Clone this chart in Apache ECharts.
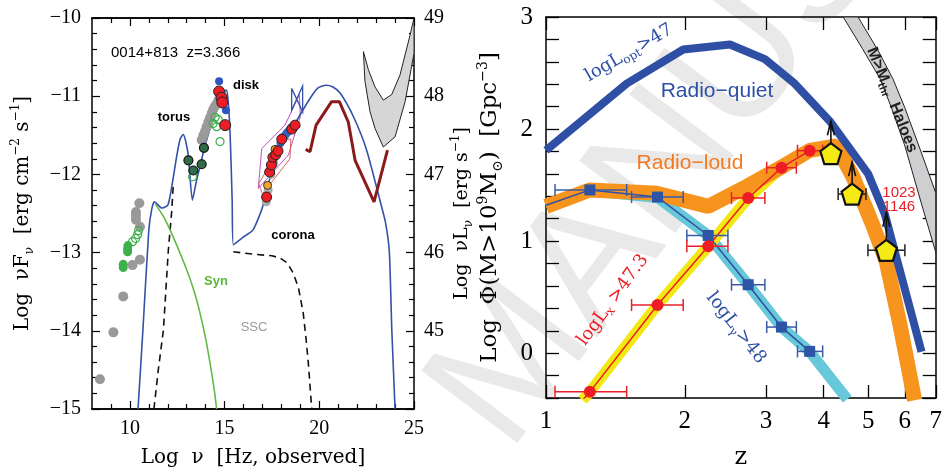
<!DOCTYPE html>
<html><head><meta charset="utf-8">
<script src="https://cdn.jsdelivr.net/npm/echarts@6/dist/echarts.min.js"></script>
<style>html,body{margin:0;padding:0;background:#fff}#c{width:945px;height:475px}</style>
</head><body><div id="c"></div>
<script>
// ================= LEFT PANEL DATA (log nu [Hz], log nuFnu) =================
const leftXMajor = [10, 15, 20, 25];
const leftXMinor = [9, 11, 12, 13, 14, 16, 17, 18, 19, 21, 22, 23, 24];
const leftRightLabels = [45, 46, 47, 48, 49];
const totalModel = [[10.43,-15],[10.69,-13.98],[11.0,-12.71],[11.15,-12.45],[11.29,-12.35],[11.45,-12.38],[11.68,-12.43],[12.01,-12.39],[12.25,-12.1],[12.47,-11.77],[12.65,-11.55],[12.82,-11.49],[12.95,-11.58],[13.09,-11.77],[13.3,-12.33],[13.5,-12.1],[13.7,-11.9],[14.0,-11.6],[14.39,-11.3],[14.75,-11.05],[15.0,-10.94],[15.11,-10.92],[15.2,-11.1],[15.29,-11.47],[15.4,-12.33],[15.46,-12.9],[16.0,-12.8],[16.5,-12.71],[17.0,-12.42],[17.56,-11.9],[18.1,-11.6],[18.6,-11.4],[19.35,-11.09],[19.9,-10.9],[20.36,-10.86],[20.7,-10.88],[21.1,-10.96],[21.8,-11.26],[22.5,-11.69],[23.2,-12.33],[23.5,-12.62],[23.7,-13.0],[23.83,-14.0],[24.0,-15]];
const torusDashed = [[11.27,-15],[11.5,-14.5],[11.77,-13.99],[12.03,-12.97],[12.2,-12.5],[12.3,-12.1]];
const coronaDashed = [[15.46,-12.99],[16.5,-13.02],[17.5,-13.04],[17.93,-13.07],[18.3,-13.13],[18.62,-13.26],[18.9,-13.45],[19.15,-13.77],[19.3,-14.1],[19.42,-14.41],[19.6,-15]];
const synCurve = [[11.35,-12.38],[11.8,-12.55],[12.12,-12.71],[12.5,-12.92],[13.0,-13.22],[13.4,-13.5],[13.7,-13.77],[14.0,-14.1],[14.23,-14.41],[14.45,-14.75],[14.58,-15]];
const latSens = [[19.28,-11.68],[19.51,-11.71],[19.83,-11.37],[20.65,-11.07],[21.06,-11.07],[21.53,-11.33],[21.89,-11.82],[22.89,-12.35],[23.6,-11.69]];
const ctaUpper = [[22.33,-10.43],[22.59,-10.66],[22.94,-10.88],[23.38,-11.05],[23.82,-10.98],[24.26,-10.73],[24.79,-10.22],[25.0,-10.0]];
const ctaLower = [[22.33,-10.43],[22.41,-10.81],[22.68,-11.2],[22.94,-11.41],[23.38,-11.65],[24.0,-11.52],[24.53,-11.07],[25.0,-10.45]];
const bowMagenta = [[16.96,-11.67],[18.19,-11.37],[18.95,-10.98],[19.0,-11.26],[18.37,-11.75],[16.78,-12.18],[16.96,-11.67]];
const bowSalmon = [[16.8,-12.12],[18.2,-11.55],[18.5,-11.55],[18.45,-11.8],[17.0,-12.25],[16.8,-12.12]];
const bowBlue = [[18.54,-10.9],[19.12,-11.2],[19.12,-10.87],[18.54,-11.18],[18.54,-10.9]];
const radioGray = [[8.42,-14.62],[9.13,-14.02],[9.65,-13.56],[10.14,-13.16],[10.53,-13.09],[10.5,-12.37],[10.32,-12.48],[10.32,-12.53],[10.32,-12.58],[10.53,-12.67]];
const radioGreenFilled = [[9.65,-13.19],[9.65,-13.15],[9.88,-12.99],[9.88,-12.95],[9.9,-12.91]];
const radioGreenOpen = [[10.14,-12.86],[10.3,-12.82],[10.41,-12.77],[10.45,-12.72]];
const irGray = [[13.79,-11.56],[13.88,-11.5],[13.97,-11.45],[14.05,-11.39],[14.14,-11.33],[14.22,-11.28],[14.32,-11.22],[14.4,-11.17],[14.49,-11.13],[14.58,-11.1],[14.67,-11.06],[14.76,-11.02],[14.85,-10.99]];
const irGreenOpen = [[13.31,-12.03],[14.4,-11.35],[14.5,-11.27],[14.58,-11.39],[14.67,-11.3],[14.76,-11.58]];
const irDark = [[13.09,-11.82],[13.35,-11.95],[13.79,-11.87],[13.91,-11.66]];
const diskRed = [[14.71,-10.94],[14.84,-11.02],[14.88,-11.08],[15.03,-11.37]];
const diskBlue = [[14.71,-10.81],[15.07,-11.18]];
const xrayGray = [[17.2,-12.35],[17.3,-12.2],[17.45,-12.0],[17.6,-11.85],[17.8,-11.7]];
const xrayOrange = [[17.27,-12.14],[17.52,-11.85],[17.66,-11.68]];
const xrayBlue = [[17.95,-11.6],[18.05,-11.55],[18.12,-11.52],[18.2,-11.5],[18.28,-11.47],[18.36,-11.45],[18.44,-11.43],[18.52,-11.4],[18.6,-11.4],[18.68,-11.38]];
const xrayRed = [[17.22,-12.29],[17.38,-11.97],[17.47,-11.88],[17.55,-11.78],[17.7,-11.75],[17.82,-11.7],[18.02,-11.55],[18.55,-11.42],[18.72,-11.37]];

// ================= RIGHT PANEL DATA (z, log Phi) =================
const zTicks = [1, 2, 3, 4, 5, 6, 7];
const phiLabels = [0, 1, 2, 3];
const phiTicks = [-0.4,-0.2,0,0.2,0.4,0.6,0.8,1,1.2,1.4,1.6,1.8,2,2.2,2.4,2.6,2.8,3];
const radioQuiet = [[1.0,1.81],[1.496,2.405],[1.984,2.71],[2.505,2.755],[2.983,2.624],[3.463,2.405],[4.125,2.07],[4.995,1.6],[5.43,1.24],[6.52,0.013]];
const radioLoud = [[1.0,1.31],[1.245,1.457],[1.737,1.428],[2.248,1.31],[2.72,1.486],[3.24,1.66],[3.73,1.81],[4.265,1.85],[4.63,1.574],[5.12,1.136],[5.47,0.815],[5.85,0.262],[6.3,-0.42]];
const gammaBand = [[1.0,1.32],[1.245,1.45],[1.745,1.39],[2.248,1.05],[2.744,0.611],[3.24,0.233],[3.73,0.014],[4.5,-0.41]];
const xrayBand = [[1.2,-0.42],[1.245,-0.345],[1.745,0.43],[2.248,0.955],[2.744,1.384],[3.24,1.655],[3.73,1.807],[3.95,1.83]];
const binZ = [1.245, 1.745, 2.248, 2.744, 3.24, 3.73];
const binLo = [1.046, 1.533, 2.02, 2.525, 3.01, 3.51];
const binHi = [1.496, 1.984, 2.48, 2.983, 3.49, 3.98];
const gammaPhi = [1.457, 1.393, 1.05, 0.611, 0.233, 0.016];
const xrayPhi = [-0.345, 0.43, 0.955, 1.384, 1.655, 1.807];
const highzZ = [4.147, 4.61, 5.47];
const highzPhi = [1.78, 1.42, 0.918];
const highzLo = [null, 4.30, 4.99];
const highzHi = [null, 4.94, 6.0];
const highzArrowTop = [2.07, 1.705, 1.253];
const haloLeft = [[4.41,3.0],[4.85,2.72],[5.3,2.45],[5.6,2.2],[6.0,1.85],[6.5,1.35],[7.0,0.9]];
const haloRight = [[4.75,3.0],[5.25,2.7],[5.65,2.45],[6.0,2.19],[6.5,1.8],[7.0,1.43]];

// ================= STYLE =================
const SERIF = 'Liberation Serif';
const TSERIF = 'DejaVu Serif';
const SANS = 'Liberation Sans';
const BLUE = '#2e4fa3', ORANGE = '#f7941d', CYAN = '#66c8d8', YELLOW = '#f2e814', RED = '#ee1c25';

function neg(v){ return v < 0 ? '\u2212' + Math.abs(v) : String(v); }

function polyRender(upper, lower, fill, stroke) {
  return function(params, api) {
    const pts = upper.map(p => api.coord(p)).concat(lower.slice().reverse().map(p => api.coord(p)));
    return {type:'polygon', shape:{points:pts}, style:{fill:fill, stroke:stroke, lineWidth:1}};
  };
}
function polylineRender(pts, color, w) {
  return function(params, api) {
    return {type:'polyline', shape:{points:pts.map(p => api.coord(p))}, style:{fill:null, stroke:color, lineWidth:w}};
  };
}
function hErrRender(color, cap, w) {
  return function(params, api) {
    const lo = api.value(2), hi = api.value(3);
    if (lo == null || isNaN(lo)) return null;
    const a = api.coord([lo, api.value(1)]), b = api.coord([hi, api.value(1)]);
    const st = {stroke:color, lineWidth:w};
    return {type:'group', children:[
      {type:'line', shape:{x1:a[0],y1:a[1],x2:b[0],y2:b[1]}, style:st},
      {type:'line', shape:{x1:a[0],y1:a[1]-cap,x2:a[0],y2:a[1]+cap}, style:st},
      {type:'line', shape:{x1:b[0],y1:b[1]-cap,x2:b[0],y2:b[1]+cap}, style:st}
    ]};
  };
}
function arrowRender(params, api) {
  const base = api.coord([api.value(0), api.value(1)]);
  const tip = api.coord([api.value(0), api.value(2)]);
  const st = {stroke:'#111', lineWidth:1.6, fill:null};
  return {type:'group', children:[
    {type:'line', shape:{x1:base[0],y1:base[1],x2:tip[0],y2:tip[1]}, style:st},
    {type:'polyline', shape:{points:[[tip[0]-3.5,tip[1]+14],[tip[0],tip[1]],[tip[0]+3.5,tip[1]+14]]}, style:st}
  ]};
}

const L = {xAxisIndex:0, yAxisIndex:0};
const R = {xAxisIndex:4, yAxisIndex:2};
function lineS(ax, data, color, width, z, extra) {
  return Object.assign({type:'line', data:data, symbol:'none', z:z, lineStyle:{color:color, width:width}, clip:true, silent:true}, ax, extra || {});
}
function scat(ax, data, size, fill, border, bw, z, extra) {
  return Object.assign({type:'scatter', data:data, z:z, symbolSize:size, itemStyle:{color:fill, borderColor:border, borderWidth:bw, opacity:1}, silent:true}, ax, extra || {});
}
function cust(ax, data, render, z, extra) {
  return Object.assign({type:'custom', data:data, renderItem:render, z:z, clip:true, silent:true}, ax, extra || {});
}

const tickLabel = {fontFamily:SERIF, fontSize:20, color:'#000'};
const axLine = {show:true, onZero:false, lineStyle:{color:'#000', width:1.5}};

const leftX = (pos, vals, len, labels) => ({
  gridIndex:0, type:'value', min:8, max:25, position:pos,
  axisLine: axLine, splitLine:{show:false},
  axisTick:{show:true, inside:true, length:len, customValues:vals, lineStyle:{color:'#000', width:1.2}},
  axisLabel: labels ? Object.assign({show:true, customValues:leftXMajor, margin:10}, tickLabel) : {show:false}
});

const titleRich = (fs) => ({
  t:{fontFamily:TSERIF, fontSize:fs, color:'#000', lineHeight:fs+6},
  s:{fontFamily:TSERIF, fontSize:Math.round(fs*0.62), color:'#000', lineHeight:Math.round(fs*0.62), verticalAlign:'bottom'},
  p:{fontFamily:TSERIF, fontSize:Math.round(fs*0.62), color:'#000', lineHeight:Math.round(fs*0.62), verticalAlign:'top'}
});

const option = {
  animation:false,
  backgroundColor:'#fff',
  grid:[
    {left:92, top:18, width:322, height:391},
    {left:546, top:17, width:390, height:388}
  ],
  xAxis:[
    Object.assign(leftX('bottom', leftXMajor, 8, true), {name:'{t|Log  \u03bd  [Hz, observed]}', nameLocation:'middle', nameGap:36, nameTextStyle:{rich:titleRich(20)}}),
    leftX('bottom', leftXMinor, 5, false),
    leftX('top', leftXMajor, 8, false),
    leftX('top', leftXMinor, 5, false),
    {gridIndex:1, type:'log', logBase:10, min:1, max:7, position:'bottom',
     axisLine:axLine, splitLine:{show:false}, minorTick:{show:false},
     axisTick:{show:true, inside:true, length:13, customValues:zTicks, lineStyle:{color:'#000', width:1.3}},
     axisLabel:{show:true, customValues:zTicks, margin:11, fontFamily:SERIF, fontSize:25, color:'#000', formatter:v => String(Math.round(v))},
     name:'z', nameLocation:'middle', nameGap:48, nameTextStyle:{fontFamily:TSERIF, fontSize:24, color:'#000'}},
    {gridIndex:1, type:'log', logBase:10, min:1, max:7, position:'top',
     axisLine:axLine, splitLine:{show:false}, minorTick:{show:false},
     axisTick:{show:true, inside:true, length:13, customValues:zTicks, lineStyle:{color:'#000', width:1.3}},
     axisLabel:{show:false}}
  ],
  yAxis:[
    {gridIndex:0, type:'value', min:-15, max:-10, interval:1, position:'left',
     axisLine:axLine, splitLine:{show:false},
     axisTick:{show:true, inside:true, length:8, lineStyle:{color:'#000', width:1.2}},
     minorTick:{show:true, splitNumber:5, length:5, lineStyle:{color:'#000', width:1.2}},
     axisLabel:Object.assign({margin:11, formatter:neg}, tickLabel),
     name:'{t|Log  \u03bdF}{s|\u03bd}{t|  [erg cm}{p|\u22122}{t| s}{p|\u22121}{t|]}', nameLocation:'middle', nameRotate:90, nameGap:56,
     nameTextStyle:{rich:titleRich(20)}},
    {gridIndex:0, type:'value', min:44, max:49, interval:1, position:'right',
     axisLine:axLine, splitLine:{show:false},
     axisTick:{show:true, inside:true, length:8, lineStyle:{color:'#000', width:1.2}},
     minorTick:{show:true, splitNumber:5, length:5, lineStyle:{color:'#000', width:1.2}},
     axisLabel:Object.assign({margin:10, customValues:leftRightLabels}, tickLabel),
     name:'{t|Log  \u03bdL}{s|\u03bd}{t|  [erg s}{p|\u22121}{t|]}', nameLocation:'middle', nameRotate:90, nameGap:36,
     nameTextStyle:{rich:titleRich(19)}},
    {gridIndex:1, type:'value', min:-0.4, max:3, position:'left',
     axisLine:axLine, splitLine:{show:false},
     axisTick:{show:true, inside:true, length:13, customValues:phiTicks, lineStyle:{color:'#000', width:1.3}},
     axisLabel:{show:true, customValues:phiLabels, margin:13, fontFamily:SERIF, fontSize:25, color:'#000'},
     name:'{t|Log  \u03a6(M>10}{p|9}{t|M}{s|\u2299}{t|)  [Gpc}{p|\u22123}{t|]}', nameLocation:'middle', nameRotate:90, nameGap:41,
     nameTextStyle:{rich:titleRich(23)}},
    {gridIndex:1, type:'value', min:-0.4, max:3, position:'right',
     axisLine:axLine, splitLine:{show:false},
     axisTick:{show:true, inside:true, length:13, customValues:phiTicks, lineStyle:{color:'#000', width:1.3}},
     axisLabel:{show:false}}
  ],
  graphic:[
    {type:'text', x:540, y:478, rotation:53*Math.PI/180, z:-10, silent:true,
     style:{text:'MANUSCRIPT', fontFamily:SANS, fontSize:175, fill:'rgba(0,0,0,0.085)', textAlign:'left', textVerticalAlign:'bottom', align:'left', verticalAlign:'bottom'}},
    // left panel labels
    {type:'text', x:111, y:53, z:50, style:{text:'0014+813  z=3.366', fontFamily:SANS, fontSize:15, fill:'#000', textAlign:'left', textVerticalAlign:'middle', align:'left', verticalAlign:'middle'}},
    {type:'text', x:174, y:117, z:50, style:{text:'torus', fontFamily:SANS, fontWeight:'bold', fontSize:13, fill:'#000', textAlign:'center', textVerticalAlign:'middle', align:'center', verticalAlign:'middle'}},
    {type:'text', x:246, y:85, z:50, style:{text:'disk', fontFamily:SANS, fontWeight:'bold', fontSize:13, fill:'#000', textAlign:'center', textVerticalAlign:'middle', align:'center', verticalAlign:'middle'}},
    {type:'text', x:293, y:235, z:50, style:{text:'corona', fontFamily:SANS, fontWeight:'bold', fontSize:13, fill:'#000', textAlign:'center', textVerticalAlign:'middle', align:'center', verticalAlign:'middle'}},
    {type:'text', x:216, y:281, z:50, style:{text:'Syn', fontFamily:SANS, fontWeight:'bold', fontSize:13, fill:'#5cb83a', textAlign:'center', textVerticalAlign:'middle', align:'center', verticalAlign:'middle'}},
    {type:'text', x:254, y:327, z:50, style:{text:'SSC', fontFamily:SANS, fontSize:13, fill:'#999', textAlign:'center', textVerticalAlign:'middle', align:'center', verticalAlign:'middle'}},
    // right panel labels
    {type:'text', x:629, y:53, rotation:30*Math.PI/180, z:50, style:{text:'{a|logL}{s|opt}{a|>47}', textAlign:'center', textVerticalAlign:'middle', align:'center', verticalAlign:'middle',
      rich:{a:{fontFamily:TSERIF, fontSize:18, fill:BLUE, color:BLUE, lineHeight:22}, s:{fontFamily:TSERIF, fontSize:12, color:BLUE, fill:BLUE, lineHeight:12, verticalAlign:'bottom'}}}},
    {type:'text', x:717, y:91, z:50, style:{text:'Radio\u2212quiet', fontFamily:SANS, fontSize:21, fill:BLUE, textAlign:'center', textVerticalAlign:'middle', align:'center', verticalAlign:'middle'}},
    {type:'text', x:690, y:163, z:50, style:{text:'Radio\u2212loud', fontFamily:SANS, fontSize:21, fill:'#f47a20', textAlign:'center', textVerticalAlign:'middle', align:'center', verticalAlign:'middle'}},
    {type:'text', x:613, y:300, rotation:54*Math.PI/180, z:50, style:{text:'{a|logL}{s|x}{a| >47.3}', textAlign:'center', textVerticalAlign:'middle', align:'center', verticalAlign:'middle',
      rich:{a:{fontFamily:TSERIF, fontSize:18, fill:RED, color:RED, lineHeight:22}, s:{fontFamily:TSERIF, fontSize:12, color:RED, fill:RED, lineHeight:12, verticalAlign:'bottom'}}}},
    {type:'text', x:736, y:328, rotation:-52*Math.PI/180, z:50, style:{text:'{a|logL}{s|\u03b3}{a|>48}', textAlign:'center', textVerticalAlign:'middle', align:'center', verticalAlign:'middle',
      rich:{a:{fontFamily:TSERIF, fontSize:18, fill:BLUE, color:BLUE, lineHeight:22}, s:{fontFamily:TSERIF, fontSize:12, color:BLUE, fill:BLUE, lineHeight:12, verticalAlign:'bottom'}}}},
    {type:'text', x:892, y:100, rotation:-68*Math.PI/180, z:50, style:{text:'{a|M>M}{s|thr}{a|  Haloes}', textAlign:'center', textVerticalAlign:'middle', align:'center', verticalAlign:'middle',
      rich:{a:{fontFamily:SANS, fontWeight:'bold', fontSize:16, fill:'#222', color:'#222', lineHeight:20}, s:{fontFamily:SANS, fontWeight:'bold', fontSize:11, color:'#222', fill:'#222', lineHeight:11, verticalAlign:'bottom'}}}},
    {type:'text', x:899, y:193, z:50, style:{text:'1023', fontFamily:SANS, fontSize:15, fill:RED, textAlign:'center', textVerticalAlign:'middle', align:'center', verticalAlign:'middle'}},
    {type:'text', x:899, y:207, z:50, style:{text:'1146', fontFamily:SANS, fontSize:15, fill:RED, textAlign:'center', textVerticalAlign:'middle', align:'center', verticalAlign:'middle'}}
  ],
  series:[
    // ---------- left panel ----------
    cust(L, [ctaUpper[0]], polyRender(ctaUpper, ctaLower, '#d6d6d6', '#222'), 1),
    lineS(L, torusDashed, '#111', 1.6, 2, {lineStyle:{color:'#111', width:1.6, type:[7,5]}}),
    lineS(L, coronaDashed, '#111', 1.6, 2, {lineStyle:{color:'#111', width:1.6, type:[7,5]}}),
    lineS(L, synCurve, '#62bb46', 1.6, 2, {smooth:0.3}),
    lineS(L, totalModel, '#3352a8', 1.6, 3, {smooth:0.2}),
    lineS(L, latSens, '#8b1a1a', 3, 3),
    cust(L, [bowMagenta[0]], polylineRender(bowMagenta, '#c24fc2', 1), 3),
    cust(L, [bowSalmon[0]], polylineRender(bowSalmon, '#e0605a', 1), 3),
    cust(L, [bowBlue[0]], polylineRender(bowBlue, '#3352a8', 1.3), 3),
    scat(L, radioGray, 10, '#999', '#999', 0, 5),
    scat(L, radioGreenFilled, 9, '#3db04b', '#3db04b', 0, 5),
    scat(L, radioGreenOpen, 8, 'rgba(255,255,255,0)', '#3db04b', 1.2, 5),
    scat(L, irGray, 10, '#9a9a9a', '#9a9a9a', 0, 5),
    scat(L, irGreenOpen, 8, 'rgba(255,255,255,0)', '#3db04b', 1.2, 5),
    scat(L, irDark, 9, '#2f6b45', '#111', 1.2, 6),
    scat(L, xrayGray, 9, '#aaa', '#aaa', 0, 5),
    scat(L, xrayBlue, 8, '#3b5fc0', '#3b5fc0', 0, 6),
    scat(L, xrayOrange, 8, '#f5a623', '#333', 1, 6),
    scat(L, xrayRed, 10, '#ee1c25', '#222', 1, 7),
    scat(L, diskBlue, 8, '#2e55c0', '#2e55c0', 0, 6),
    scat(L, diskRed, 11, '#ee1c25', '#222', 1, 7),
    // ---------- right panel ----------
    cust(R, [haloLeft[0]], polyRender(haloLeft, haloRight, '#cfcfd2', '#222'), 1),
    lineS(R, gammaBand, CYAN, 11, 2),
    lineS(R, xrayBand, YELLOW, 11, 2),
    lineS(R, radioLoud, ORANGE, 15, 3),
    lineS(R, radioQuiet, BLUE, 8, 3),
    lineS(R, [[1.0,1.32]].concat(binZ.map((z,i) => [z, gammaPhi[i]])), BLUE, 1.5, 4),
    lineS(R, [xrayBand[0]].concat(binZ.map((z,i) => [z, xrayPhi[i]])), RED, 1.5, 4),
    cust(R, binZ.map((z,i) => [z, gammaPhi[i], binLo[i], binHi[i]]), hErrRender('#3a5aa8', 6, 1.5), 5, {encode:{x:0, y:1}}),
    cust(R, binZ.map((z,i) => [z, xrayPhi[i], binLo[i], binHi[i]]), hErrRender('#e8202a', 6, 1.5), 5, {encode:{x:0, y:1}}),
    scat(R, binZ.map((z,i) => [z, gammaPhi[i]]), 11, '#2e55a5', '#2e55a5', 0, 6, {symbol:'rect'}),
    scat(R, binZ.map((z,i) => [z, xrayPhi[i]]), 12, RED, RED, 0, 6),
    cust(R, highzZ.map((z,i) => [z, highzPhi[i], highzLo[i], highzHi[i]]), hErrRender('#222', 6, 1.5), 6, {encode:{x:0, y:1}}),
    cust(R, highzZ.map((z,i) => [z, highzPhi[i], highzArrowTop[i]]), arrowRender, 6, {encode:{x:0, y:1}}),
    scat(R, highzZ.map((z,i) => [z, highzPhi[i]]), 21, '#f5ea14', '#111', 2.2, 7, {symbol:'path://M0,-10 L9.5,-3.1 L5.9,8.1 L-5.9,8.1 L-9.5,-3.1 Z'})
  ]
};
const chart = echarts.init(document.getElementById('c'), null, {renderer:'canvas'});
chart.setOption(option);
</script>
</body></html>
